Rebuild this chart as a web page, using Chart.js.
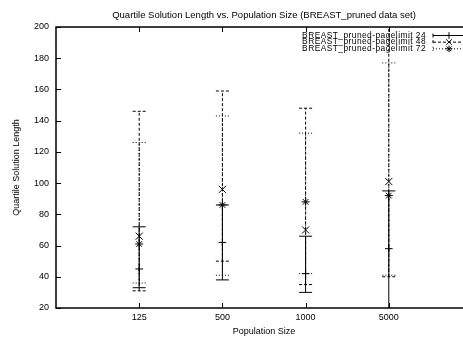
<!DOCTYPE html>
<html>
<head>
<meta charset="utf-8">
<script src="https://cdn.jsdelivr.net/npm/chart.js@4.4.0/dist/chart.umd.min.js"></script>
<style>
html,body{margin:0;padding:0;background:#fff;overflow:hidden}
#caja{width:463px;height:340px;overflow:hidden}
</style>
</head>
<body>
<div id="caja"><canvas id="grafica" width="480" height="340"></canvas></div>
<script>
var titulo = 'Quartile Solution Length vs. Population Size (BREAST_pruned data set)';
var poblaciones = ['125', '500', '1000', '5000'];
var posiciones = [1, 2, 3, 4];
var nombres = ['BREAST_pruned-pagelimit 24', 'BREAST_pruned-pagelimit 48', 'BREAST_pruned-pagelimit 72'];

// cuartil bajo, mediana, cuartil alto
var bajo24 = [33, 38, 30, 15];
var medio24 = [45, 62, 42, 58];
var alto24 = [72, 86, 66, 95];

var bajo48 = [31, 50, 35, 40];
var medio48 = [66, 96, 70, 101];
var alto48 = [146, 159, 148, 210];

var bajo72 = [36, 41, 42, 41];
var medio72 = [61, 86, 88, 92];
var alto72 = [126, 143, 132, 177];

var fuente = '"Liberation Sans", Arial, Helvetica, sans-serif';
var tinta = '#000';

function barras(bajos, altos){
	var d = [];
	for (var i = 0; i < posiciones.length; i++) {
		d.push({x: posiciones[i], y: bajos[i]});
		d.push({x: posiciones[i], y: altos[i]});
		d.push({x: posiciones[i], y: null});
	}
	return d;
}

function puntos(medios){
	return posiciones.map(function(p, i){ return {x: p, y: medios[i]}; });
}

var series = [
	{bajo: bajo24, medio: medio24, alto: alto24, trazo: [], marca: 'cross', radio: 3.8},
	{bajo: bajo48, medio: medio48, alto: alto48, trazo: [3, 2], marca: 'crossRot', radio: 5},
	{bajo: bajo72, medio: medio72, alto: alto72, trazo: [1, 2], marca: 'star', radio: 4}
];

var conjuntos = [];
series.forEach(function(s, k){
	conjuntos.push({
		label: nombres[k],
		data: puntos(s.medio),
		showLine: false,
		pointStyle: s.marca,
		pointRadius: s.radio,
		pointHoverRadius: s.radio,
		pointBorderWidth: 1,
		pointBorderColor: tinta,
		borderColor: tinta,
		marca: s.marca,
		trazo: s.trazo
	});
	conjuntos.push({
		label: '',
		data: barras(s.bajo, s.alto),
		spanGaps: false,
		borderColor: tinta,
		borderWidth: 1,
		borderDash: s.trazo,
		pointStyle: 'line',
		pointRadius: 6.5,
		pointHoverRadius: 6.5,
		pointBorderWidth: 1,
		pointBorderColor: tinta,
		tapa: s.trazo
	});
});

// los topes de las barras con el mismo trazo que la linea
var trazoTapas = {
	id: 'trazoTapas',
	beforeDatasetDraw: function(chart, args){
		var ds = chart.data.datasets[args.index];
		if (ds.tapa) chart.ctx.setLineDash(ds.tapa);
	},
	afterDatasetDraw: function(chart){
		chart.ctx.setLineDash([]);
	}
};

function dibujarMarca(ctx, tipo, x, y, r){
	ctx.beginPath();
	if (tipo === 'cross' || tipo === 'star') {
		ctx.moveTo(x - r, y); ctx.lineTo(x + r, y);
		ctx.moveTo(x, y - r); ctx.lineTo(x, y + r);
	}
	if (tipo === 'crossRot' || tipo === 'star') {
		var d = r * Math.SQRT1_2;
		ctx.moveTo(x - d, y - d); ctx.lineTo(x + d, y + d);
		ctx.moveTo(x - d, y + d); ctx.lineTo(x + d, y - d);
	}
	ctx.stroke();
}

var marco = {
	id: 'marco',
	afterDraw: function(chart){
		var ctx = chart.ctx;
		var a = chart.chartArea;
		var sx = chart.scales.x, sy = chart.scales.y;
		ctx.save();
		ctx.strokeStyle = tinta;
		ctx.lineWidth = 1.5;
		ctx.strokeRect(a.left, a.top, a.right - a.left, a.bottom - a.top);
		ctx.lineWidth = 1;
		ctx.beginPath();
		sy.ticks.forEach(function(t){
			var y = Math.round(sy.getPixelForValue(t.value)) + 0.5;
			ctx.moveTo(a.left, y); ctx.lineTo(a.left + 5, y);
			ctx.moveTo(a.right, y); ctx.lineTo(a.right - 5, y);
		});
		posiciones.forEach(function(p){
			var x = Math.round(sx.getPixelForValue(p)) + 0.5;
			ctx.moveTo(x, a.bottom); ctx.lineTo(x, a.bottom - 5);
			ctx.moveTo(x, a.top); ctx.lineTo(x, a.top + 5);
		});
		ctx.stroke();

		// titulo centrado sobre el area del grafico
		ctx.fillStyle = tinta;
		ctx.font = '9.5px ' + fuente;
		ctx.textAlign = 'center';
		ctx.textBaseline = 'middle';
		ctx.fillText(titulo, (a.left + a.right) / 2, 15);

		// leyenda
		ctx.font = '8.4px ' + fuente;
		if ('letterSpacing' in ctx) ctx.letterSpacing = '0.45px';
		ctx.textAlign = 'right';
		var k = 0;
		chart.data.datasets.forEach(function(ds){
			if (!ds.label) return;
			var y = 35.5 + k * 6.65;
			ctx.fillText(ds.label, 426, y);
			ctx.lineWidth = 1;
			ctx.setLineDash(ds.trazo);
			ctx.beginPath();
			ctx.moveTo(433, y); ctx.lineTo(465, y);
			ctx.stroke();
			ctx.beginPath();
			ctx.moveTo(433, y - 2); ctx.lineTo(433, y + 2);
			ctx.moveTo(465, y - 2); ctx.lineTo(465, y + 2);
			ctx.stroke();
			ctx.setLineDash([]);
			dibujarMarca(ctx, ds.marca, 449, y, ds.marca === 'crossRot' ? 4 : 3.3);
			k++;
		});
		ctx.restore();
	}
};

var grafica = new Chart(document.getElementById('grafica'), {
	type: 'line',
	data: {datasets: conjuntos},
	plugins: [trazoTapas, marco],
	options: {
		responsive: false,
		animation: false,
		events: [],
		layout: {padding: {left: 0, right: 8, top: 27, bottom: 0}},
		plugins: {
			legend: {display: false},
			tooltip: {enabled: false},
			title: {display: false}
		},
		scales: {
			x: {
				type: 'linear',
				min: 0,
				max: 5,
				afterBuildTicks: function(s){
					s.ticks = posiciones.map(function(v){ return {value: v}; });
				},
				afterFit: function(s){ s.height = 32; },
				grid: {display: false, drawTicks: false},
				border: {display: false},
				ticks: {
					autoSkip: false,
					maxRotation: 0,
					padding: 4,
					color: tinta,
					font: {family: fuente, size: 9},
					callback: function(v){ return poblaciones[posiciones.indexOf(v)]; }
				},
				title: {
					display: true,
					text: 'Population Size',
					color: tinta,
					font: {family: fuente, size: 9},
					padding: {top: 0, bottom: 3.5}
				}
			},
			y: {
				min: 20,
				max: 200,
				afterFit: function(s){ s.width = 56; },
				grid: {display: false, drawTicks: false},
				border: {display: false},
				ticks: {
					stepSize: 20,
					padding: 7,
					color: tinta,
					font: {family: fuente, size: 9}
				},
				title: {
					display: true,
					text: 'Quartile Solution Length',
					color: tinta,
					font: {family: fuente, size: 9},
					padding: {top: 11, bottom: 0}
				}
			}
		}
	}
});
</script>
</body>
</html>
